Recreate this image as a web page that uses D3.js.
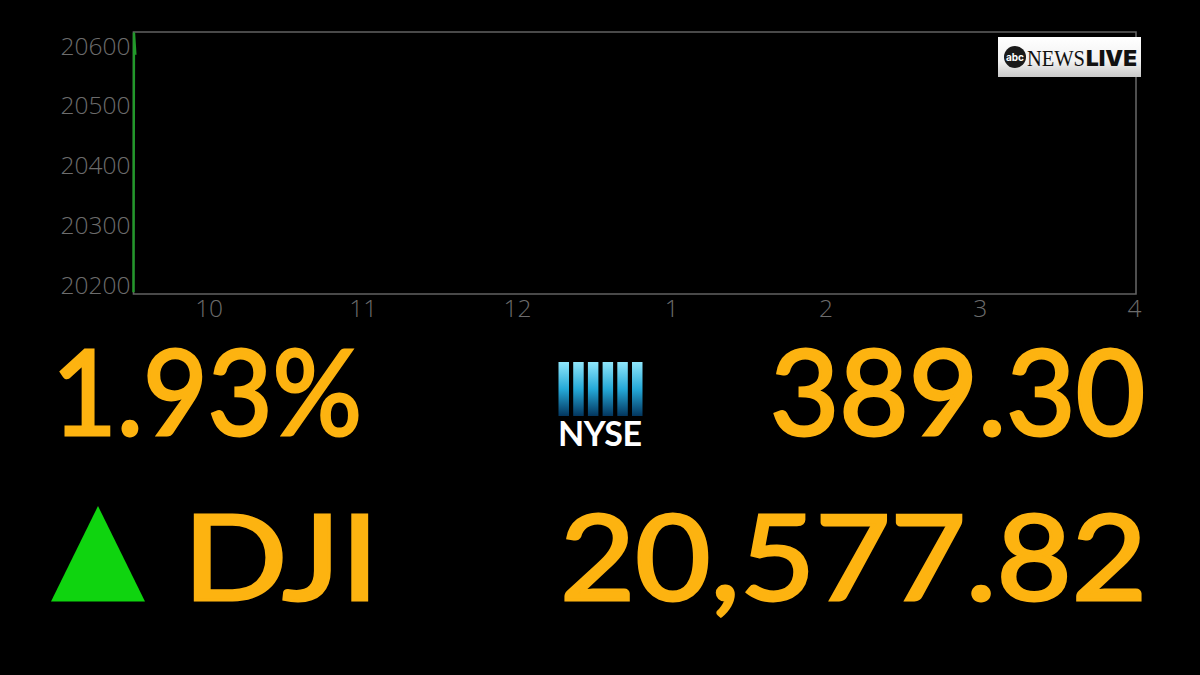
<!DOCTYPE html>
<html><head><meta charset="utf-8"><script src="https://cdn.jsdelivr.net/npm/d3@7"></script>
<style>html,body{margin:0;background:#000;overflow:hidden}svg{display:block}</style></head><body>
<script>
const yTicks=[20200,20300,20400,20500,20600];
const xTickHours=[10,11,12,13,14,15,16];
const xTickLabels=["10","11","12","1","2","3","4"];
const seriesTimes=[9.5,9.503,9.512];
const seriesValues=[20188,20622,20585];
const pctChange="1.93%";
const pointChange="389.30";
const indexName="DJI";
const indexValue="20,577.82";
const amber="#fdb310",green="#0fd40f",grey="#6c6c6c",frameGrey="#626262";
const F="Lato, Inter, sans-serif";
const svg=d3.select("body").append("svg").attr("width",1200).attr("height",675);
const x=d3.scaleLinear().domain([9.5,16]).range([133.5,1136]);
const y=d3.scaleLinear().domain([20185,20623]).range([294,32]);
const defs=svg.append("defs");
const g1=defs.append("linearGradient").attr("id","ny").attr("x1",0).attr("x2",0).attr("y1",0).attr("y2",1);
[[0,"#8fe6fb"],[.5,"#25a9d8"],[1,"#03365f"]].forEach(s=>g1.append("stop").attr("offset",s[0]).attr("stop-color",s[1]));
const g2=defs.append("linearGradient").attr("id","lg").attr("x1",0).attr("x2",0).attr("y1",0).attr("y2",1);
[[0,"#ffffff"],[.6,"#f2f2f2"],[1,"#c9c9c9"]].forEach(s=>g2.append("stop").attr("offset",s[0]).attr("stop-color",s[1]));
// frame
svg.append("path").attr("d",`M${x(9.5)},${y(20185)}V${y(20623)}H${x(16)}V${y(20185)}Z`).attr("fill","none").attr("stroke",frameGrey).attr("stroke-width",1.6);
// series
svg.append("path").datum(seriesTimes.map((t,i)=>[t,seriesValues[i]])).attr("fill","none").attr("stroke","#22992a").attr("stroke-width",2.4)
 .attr("d",d3.line().x(d=>x(d[0])).y(d=>y(d[1])));
// axes
const ya=d3.axisLeft(y).tickValues(yTicks).tickSize(0).tickPadding(3).tickFormat(d3.format("d"));
const yg=svg.append("g").attr("transform",`translate(${x(9.5)},0.5)`).call(ya);
const xa=d3.axisBottom(x).tickValues(xTickHours).tickSize(0).tickPadding(6).tickFormat((d,i)=>xTickLabels[i]);
const xg=svg.append("g").attr("transform",`translate(-2,${y(20185)})`).call(xa);
[yg,xg].forEach(g=>{g.select(".domain").remove();g.selectAll("text").attr("fill",grey).attr("font-family","'Open Sans',sans-serif").attr("font-weight",300).attr("font-size",24.5);});
// big text
const big=(t,px,py,a,w)=>svg.append("text").text(t).attr("x",px).attr("y",py).attr("text-anchor",a).attr("fill",amber)
 .attr("stroke",amber).attr("stroke-width",3)
 .attr("font-family",F).attr("font-weight",400).attr("font-size",118).attr("textLength",w).attr("lengthAdjust","spacingAndGlyphs");
big(pctChange,52,435,"start",310);
big(pointChange,1145,435,"end",375);
big(indexName,183,600,"start",196);
big(indexValue,1147,600,"end",587);
svg.append("path").attr("d",d3.line()([[51,601.5],[145,601.5],[98,506]])+"Z").attr("fill",green);
// NYSE logo
d3.range(6).forEach(i=>svg.append("rect").attr("x",558.5+i*14.7).attr("y",362).attr("width",10.5).attr("height",54).attr("fill","url(#ny)"));
svg.append("text").text("NYSE").attr("x",558).attr("y",446).attr("fill","#fff").attr("font-family",F).attr("font-weight",700).attr("font-size",34).attr("textLength",84).attr("lengthAdjust","spacing");
// ABC News Live logo
svg.append("rect").attr("x",998).attr("y",37).attr("width",143).attr("height",40).attr("fill","url(#lg)");
svg.append("circle").attr("cx",1015).attr("cy",57).attr("r",11).attr("fill","#1a1a1a");
svg.append("text").text("abc").attr("x",1015).attr("y",60.5).attr("text-anchor","middle").attr("fill","#fff").attr("font-family","Inter, sans-serif").attr("font-weight",700).attr("font-size",10);
svg.append("text").text("NEWS").attr("x",1027).attr("y",66).attr("fill","#111").attr("font-family","'Liberation Serif',serif").attr("font-size",24).attr("textLength",58).attr("lengthAdjust","spacingAndGlyphs");
svg.append("text").text("LIVE").attr("x",1086).attr("y",65.5).attr("fill","#111").attr("font-family","Inter, sans-serif").attr("font-weight",900).attr("font-size",22).attr("textLength",51).attr("lengthAdjust","spacingAndGlyphs");
</script></body></html>
